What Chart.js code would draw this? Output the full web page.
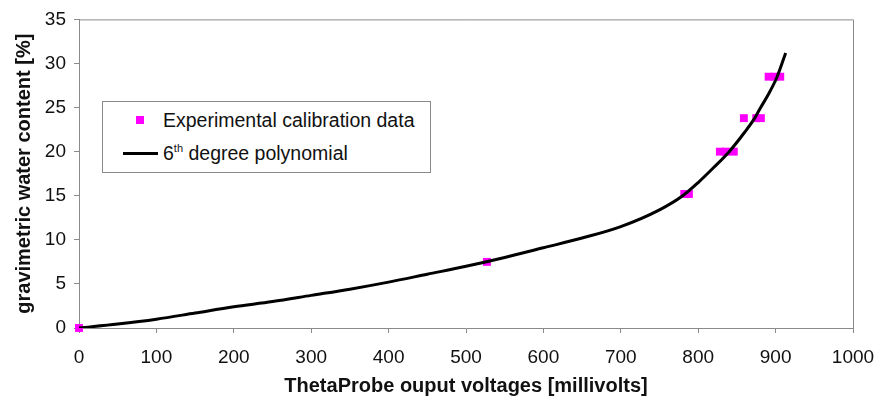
<!DOCTYPE html>
<html>
<head>
<meta charset="utf-8">
<script src="https://cdn.jsdelivr.net/npm/chart.js@4"></script>
<style>
  body { margin: 0; background: #fff; }
  #wrap { position: relative; width: 875px; height: 400px; }
  #legend {
    position: absolute; left: 102px; top: 101px; width: 327px; height: 70px;
    border: 1px solid #8a8a8a; background: #fff;
    font-family: "Liberation Sans", Arial, sans-serif; font-size: 19.5px; color: #111;
  }
  #legend .row { position: absolute; left: 0; height: 22px; line-height: 22px; }
  #legend .txt { position: absolute; left: 60px; white-space: nowrap; }
  #legend .sq { position: absolute; left: 33px; top: 7px; width: 8px; height: 8px; background: #ff00ff; }
  #legend .ln { position: absolute; left: 20px; top: 10px; width: 35px; height: 3px; background: #000; }
  #legend sup { font-size: 11px; vertical-align: 8px; line-height: 0; }
</style>
</head>
<body>
<div id="wrap">
  <canvas id="calib_chart" width="875" height="400"></canvas>
  <div id="legend">
    <div class="row" style="top:7px"><span class="sq"></span><span class="txt">Experimental calibration data</span></div>
    <div class="row" style="top:40px"><span class="ln"></span><span class="txt">6<sup>th</sup> degree polynomial</span></div>
  </div>
</div>
<script>
// experimental calibration points (mV, %)
const expX = [0, 527, 782, 788, 828, 836, 846, 859, 875, 881, 891, 899, 906]
const expY = [0, 7.5, 15.2, 15.2, 20, 20, 20, 23.8, 23.8, 23.8, 28.5, 28.5, 28.5]

// polynomial fit
const fitX = [0, 50, 100, 150, 200, 250, 300, 350, 400, 450, 500, 550, 600, 650, 700, 750, 780, 800, 820, 840, 860, 873, 880, 890, 902, 913]
const fitY = [0, 0.45, 1.0, 1.7, 2.4, 3.0, 3.7, 4.4, 5.2, 6.1, 7.0, 8.0, 9.1, 10.2, 11.5, 13.4, 15.0, 16.5, 18.2, 20.0, 22.2, 23.8, 24.9, 26.4, 28.5, 31.2]

const xTicks = [0, 100, 200, 300, 400, 500, 600, 700, 800, 900, 1000]
const yTicks = [0, 5, 10, 15, 20, 25, 30, 35]

const font = "'Liberation Sans', Arial, sans-serif"
const axisGray = '#8a8a8a'

// gray frame round the plot area
const frame = {
    id: 'frame',
    afterDraw(chart) {
        const { ctx, chartArea: a } = chart
        ctx.save()
        ctx.strokeStyle = axisGray
        ctx.lineWidth = 1
        ctx.beginPath()
        ctx.moveTo(a.left, a.top + 0.5)
        ctx.lineTo(a.right + 0.5, a.top + 0.5)
        ctx.lineTo(a.right + 0.5, a.bottom)
        ctx.stroke()
        ctx.restore()
    }
}

new Chart(document.querySelector('#calib_chart'), {
    type: 'scatter',
    data: {
        datasets: [{
            label: '6th degree polynomial',
            data: fitX.map((x, i) => ({ x: x, y: fitY[i] })),
            showLine: true,
            borderColor: '#000',
            borderWidth: 3,
            pointRadius: 0,
            cubicInterpolationMode: 'monotone',
            order: 0
        }, {
            label: 'Experimental calibration data',
            data: expX.map((x, i) => ({ x: x, y: expY[i] })),
            pointStyle: 'rect',
            pointRadius: 5.6,
            borderWidth: 0,
            backgroundColor: '#ff00ff',
            clip: false,
            order: 1
        }]
    },
    options: {
        responsive: false,
        animation: false,
        layout: { padding: { left: 0, right: 0, top: 19, bottom: 0 } },
        plugins: { legend: { display: false }, tooltip: { enabled: false } },
        scales: {
            x: {
                type: 'linear',
                min: 0,
                max: 1000,
                afterBuildTicks: (s) => { s.ticks = xTicks.map(v => ({ value: v })) },
                afterFit: (s) => { s.height = 72; s.paddingRight = 22 },
                grid: { drawOnChartArea: false, color: axisGray, tickLength: 5 },
                border: { color: axisGray },
                ticks: { color: '#111', padding: 13, font: { family: font, size: 19 }, callback: (v) => String(v) },
                title: {
                    display: true,
                    text: 'ThetaProbe ouput voltages [millivolts]',
                    color: '#111',
                    padding: { top: 0, bottom: 2 },
                    font: { family: font, size: 20, weight: 'bold' }
                }
            },
            y: {
                type: 'linear',
                min: 0,
                max: 35,
                afterBuildTicks: (s) => { s.ticks = yTicks.map(v => ({ value: v })) },
                afterFit: (s) => { s.width = 79 },
                grid: { drawOnChartArea: false, color: axisGray, tickLength: 5 },
                border: { color: axisGray },
                ticks: { color: '#111', padding: 8, font: { family: font, size: 19 }, callback: (v) => String(v) },
                title: {
                    display: true,
                    text: 'gravimetric water content [%]',
                    color: '#111',
                    padding: { top: 12, bottom: 0 },
                    font: { family: font, size: 20, weight: 'bold' }
                }
            }
        }
    },
    plugins: [frame]
})
</script>
</body>
</html>
